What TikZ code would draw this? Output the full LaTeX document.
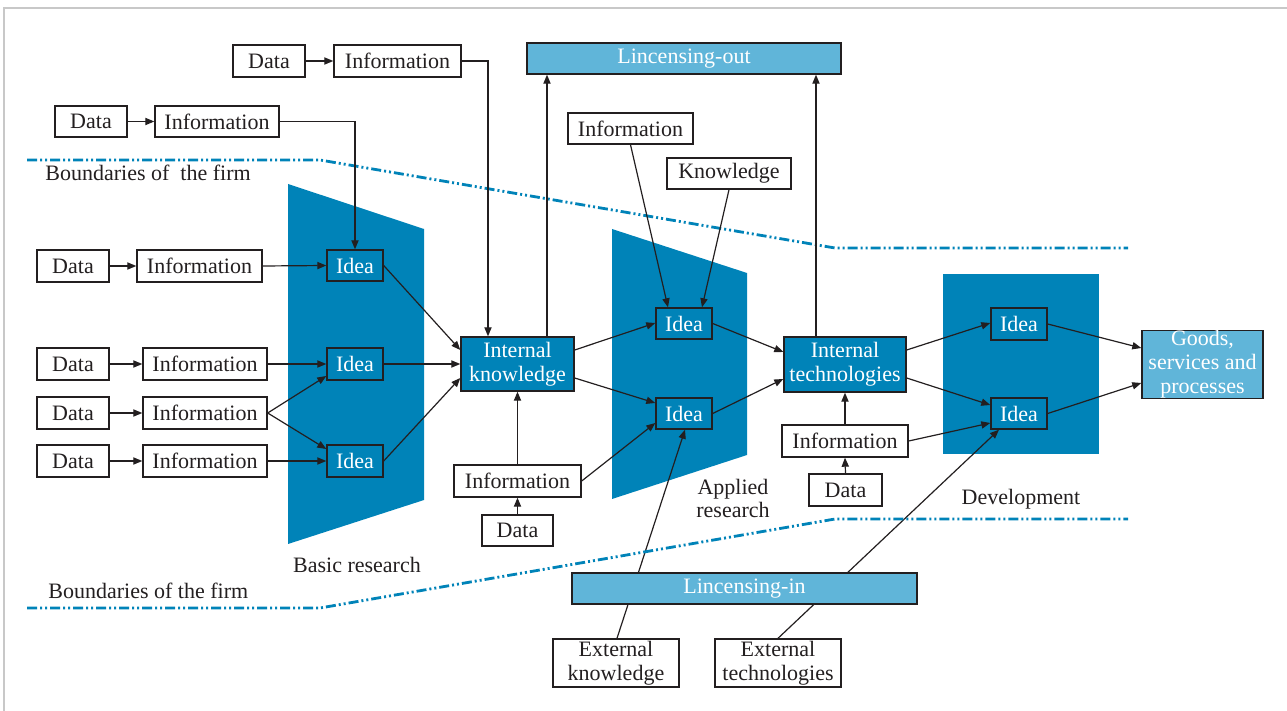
\documentclass[tikz,border=0pt]{standalone}
\usepackage{fontspec}
\setmainfont{Liberation Serif}
\usetikzlibrary{arrows.meta,calc}
\definecolor{dblue}{RGB}{0,131,184}
\definecolor{lblue}{RGB}{96,181,217}
\definecolor{ink}{RGB}{35,31,32}
\definecolor{framegray}{RGB}{200,200,200}
\pgfdeclarelayer{back}
\pgfdeclarelayer{mid}
\pgfsetlayers{back,mid,main}
\newcommand\dbox[7]{\node[#6, minimum width={0.5pt*(#4-#2)}, minimum height={0.5pt*(#5-#3)}] (#1) at ({(#2+#4)/2},{(#3+#5)/2}) {#7};}
\tikzset{
  wbox/.style={draw=ink, line width=0.7pt, fill=white, text=ink, inner sep=0pt, align=center, font=\fontsize{11}{12}\selectfont},
  bbox/.style={wbox, fill=dblue, text=white},
  lbox/.style={wbox, fill=lblue, text=white},
  arr/.style={draw=ink, line width=0.6pt, -{Triangle[length=4.5pt,width=3.6pt]}},
  ln/.style={draw=ink, line width=0.6pt},
  bound/.style={draw=dblue, line width=1.4pt, dash pattern=on 5pt off 1.5pt on 1pt off 1.5pt on 1pt off 1.5pt},
  lbl/.style={text=ink, inner sep=0pt, align=center, font=\fontsize{11}{11.5}\selectfont}
}
\begin{document}
\begin{tikzpicture}[x=0.5pt,y=-0.5pt]
\useasboundingbox (0,0) rectangle (1287,711);
\draw[framegray, line width=1pt] (4,711) -- (4,8) -- (1287,8);

% background shapes
\begin{pgfonlayer}{back}
\fill[dblue] (288,184) -- (424,229) -- (424,500) -- (288,544) -- cycle;
\fill[dblue] (612,229) -- (747,273) -- (747,455) -- (612,499) -- cycle;
\fill[dblue] (943,274) rectangle (1099,454);
\end{pgfonlayer}

% boundaries
\draw[bound] (27,160) -- (320,160) -- (835,248) -- (1128,248);
\draw[bound] (27,608) -- (320,608) -- (835,519) -- (1128,519);
\node[lbl, anchor=west] (bt) at (45,173) {Boundaries of\ \ the firm};
\node[lbl, anchor=west] (bb) at (48,591) {Boundaries of the firm};
\node[lbl] (basic) at (357,565) {Basic research};
\node[lbl] (applied) at (733,498) {Applied\\research};
\node[lbl] (dev) at (1021,499) {Development};

% top rows
\dbox{d0}{233}{45}{305}{77}{wbox}{Data}
\dbox{i0}{334}{45}{461}{77}{wbox}{Information}
\dbox{d1}{55}{106}{127}{137}{wbox}{Data}
\dbox{i1}{155}{106}{279}{137}{wbox}{Information}

% left column
\dbox{dL1}{37}{250}{109}{282}{wbox}{Data}
\dbox{iL1}{137}{250}{262}{282}{wbox}{Information}
\dbox{dL2}{37}{348}{109}{380}{wbox}{Data}
\dbox{iL2}{143}{348}{267}{380}{wbox}{Information}
\dbox{dL3}{37}{397}{109}{429}{wbox}{Data}
\dbox{iL3}{143}{397}{267}{429}{wbox}{Information}
\dbox{dL4}{37}{445}{109}{477}{wbox}{Data}
\dbox{iL4}{143}{445}{267}{477}{wbox}{Information}

% basic research ideas
\dbox{b1}{327}{250}{383}{281}{bbox}{Idea}
\dbox{b2}{327}{348}{383}{380}{bbox}{Idea}
\dbox{b3}{327}{445}{383}{477}{bbox}{Idea}

% internal knowledge
\dbox{ik}{461}{337}{574}{391}{bbox}{Internal\\knowledge}
\dbox{ikI}{454}{465}{581}{497}{wbox}{Information}
\dbox{ikD}{482}{515}{553}{546}{wbox}{Data}

% licensing
\dbox{lout}{527}{43}{841}{74}{lbox}{Lincensing-out}
\dbox{lin}{572}{573}{917}{604}{lbox}{Lincensing-in}

% applied research
\dbox{ti}{568}{113}{693}{144}{wbox}{Information}
\dbox{kn}{667}{158}{791}{189}{wbox}{Knowledge}
\dbox{a1}{656}{308}{712}{339}{bbox}{Idea}
\dbox{a2}{656}{398}{712}{429}{bbox}{Idea}

% internal technologies
\dbox{it}{784}{337}{906}{392}{bbox}{Internal\\technologies}
\dbox{itI}{782}{425}{908}{457}{wbox}{Information}
\dbox{itD}{809}{474}{882}{506}{wbox}{Data}

% development
\dbox{e1}{991}{308}{1047}{340}{bbox}{Idea}
\dbox{e2}{991}{398}{1047}{429}{bbox}{Idea}
\dbox{g}{1142}{331}{1263}{398}{lbox}{Goods,\\services and\\processes}

% external
\dbox{extK}{553}{639}{679}{687}{wbox}{External\\knowledge}
\dbox{extT}{715}{639}{841}{687}{wbox}{External\\technologies}

% connectors
\draw[arr] (d0.east) -- (i0.west);
\draw[arr] (i0.east) -| (ik.north -| 488,0);
\draw[arr] (d1.east) -- (i1.west);
\draw[arr] (i1.east) -| (b1.north);

\draw[arr] (dL1.east) -- (iL1.west);
\draw[arr] (dL2.east) -- (iL2.west);
\draw[arr] (dL3.east) -- (iL3.west);
\draw[arr] (dL4.east) -- (iL4.west);
\draw[arr] (iL1.east) -- (b1.west);
\draw[arr] (iL2.east) -- (b2.west);
\draw[arr] (iL3.east) -- (b2.west |- 0,376);
\draw[arr] (iL3.east) -- (b3.west |- 0,449);
\draw[arr] (iL4.east) -- (b3.west);

\draw[arr] (b1.east) -- (ik.west |- 0,350);
\draw[arr] (b2.east) -- (ik.west);
\draw[arr] (b3.east) -- (ik.west |- 0,378);

\draw[arr] (ikI.north) -- (ik.south);
\draw[arr] (ikD.north) -- (ikI.south);
\draw[arr] (ik.north -| 547,0) -- (lout.south -| 547,0);

\draw[arr] (ik.east |- 0,350) -- (a1.west |- 0,323);
\draw[arr] (ik.east |- 0,378) -- (a2.west |- 0,403);
\draw[arr] (ikI.east) -- (a2.west |- 0,423);
\draw[arr] (ti.south) -- (a1.north -| 668,0);
\draw[arr] (kn.south) -- (a1.north -| 702,0);

\draw[arr] (a1.east) -- (it.west |- 0,352);
\draw[arr] (a2.east) -- (it.west |- 0,379);
\draw[arr] (itI.north) -- (it.south);
\draw[arr] (itD.north) -- (itI.south);
\draw[arr] (it.north -| 816,0) -- (lout.south -| 816,0);

\draw[arr] (it.east |- 0,350) -- (e1.west |- 0,323);
\draw[arr] (it.east |- 0,378) -- (e2.west |- 0,405);
\draw[arr] (itI.east) -- (e2.west |- 0,423);
\draw[arr] (e1.east) -- (g.west |- 0,348);
\draw[arr] (e2.east) -- (g.west |- 0,383);

\begin{pgfonlayer}{mid}
\draw[arr] (extK.north -| 617,0) -- (a2.south -| 685,0);
\draw[arr] (extT.north) -- (e2.south -| 999,0);
\end{pgfonlayer}
\end{tikzpicture}
\end{document}
